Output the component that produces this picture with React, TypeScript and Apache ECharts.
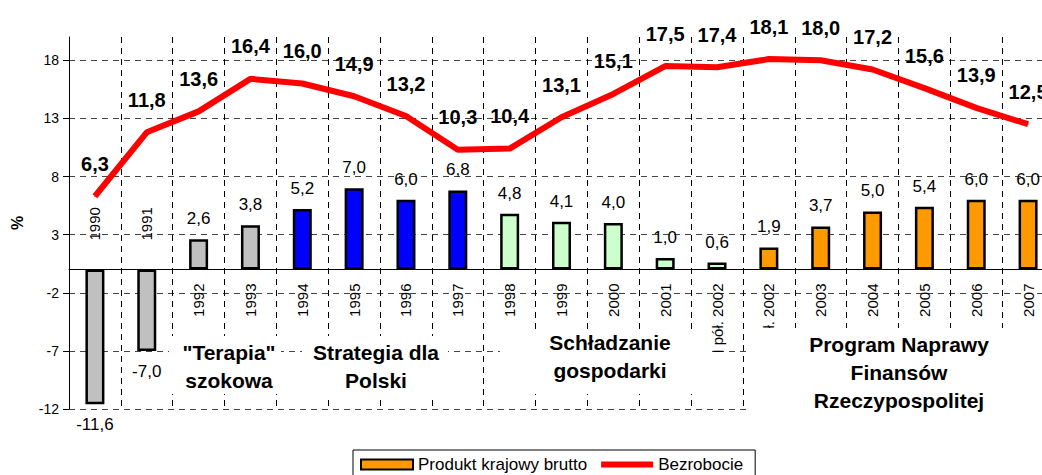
import React, { useEffect, useRef } from 'react';
import * as echarts from 'echarts';

const categories = ['1990', '1991', '1992', '1993', '1994', '1995', '1996', '1997', '1998', '1999', '2000', '2001', 'I pół. 2002', 'II pół. 2002', '2003', '2004', '2005', '2006', '2007'];
const gdpGrowth = [-11.6, -7.0, 2.6, 3.8, 5.2, 7.0, 6.0, 6.8, 4.8, 4.1, 4.0, 1.0, 0.6, 1.9, 3.7, 5.0, 5.4, 6.0, 6.0];
const unemployment = [6.3, 11.8, 13.6, 16.4, 16.0, 14.9, 13.2, 10.3, 10.4, 13.1, 15.1, 17.5, 17.4, 18.1, 18.0, 17.2, 15.6, 13.9, 12.5];
const periods = ['terapia', 'terapia', 'terapia', 'terapia', 'strategia', 'strategia', 'strategia', 'strategia', 'schladzanie', 'schladzanie', 'schladzanie', 'schladzanie', 'schladzanie', 'program', 'program', 'program', 'program', 'program', 'program'];
const periodColors: Record<string, string> = { terapia: '#C0C0C0', strategia: '#0000FF', schladzanie: '#CCFFCC', program: '#FF9900' };
const yTicks = [-12, -7, -2, 3, 8, 13, 18];
const periodTitles = ['"Terapia"\nszokowa', 'Strategia dla\nPolski', 'Schładzanie\ngospodarki', 'Program Naprawy\nFinansów\nRzeczypospolitej'];

const FONT = '"Liberation Sans", Arial, sans-serif';
const fmt = (v: number) => v.toFixed(1).replace('.', ',');

// annotation boxes: [x, y, w, h, textX, textY]
const boxes = [
  [169, 336, 112, 58, 229, 366],
  [302, 336, 146, 64, 376, 366],
  [500, 333, 212, 61, 610, 356],
  [748, 328, 294, 90, 899, 372],
];

export default function App() {
  const ref = useRef<HTMLDivElement>(null);
  useEffect(() => {
    if (!ref.current) return;
    const chart = echarts.init(ref.current, null, { renderer: 'svg' });
    const option: any = {
      animation: false,
      textStyle: { fontFamily: FONT },
      grid: { left: 69, right: -12, top: 37, bottom: 66, containLabel: false, outerBoundsMode: 'none' },
      legend: {
        left: 353,
        top: 450,
        padding: [6, 12, 10, 7],
        borderColor: '#000',
        borderWidth: 1,
        itemWidth: 52,
        itemHeight: 10,
        itemGap: 14,
        selectedMode: false,
        textStyle: { fontSize: 17, color: '#000', fontFamily: FONT },
        data: [
          { name: 'Produkt krajowy brutto', icon: 'rect', itemStyle: { color: '#FF9900', borderColor: '#000', borderWidth: 2 } },
          { name: 'Bezrobocie', icon: 'path://M0,0L0,0M52,10L52,10M0,2H52V8H0Z', itemStyle: { color: '#FF0000', borderWidth: 0 } },
        ],
      },
      xAxis: {
        type: 'category',
        data: categories,
        axisLine: { onZero: true, lineStyle: { color: '#000', width: 1 } },
        axisTick: { show: false },
        axisLabel: { show: false },
        splitLine: { show: true, interval: 0, lineStyle: { type: [6, 5], color: '#000', width: 1 } },
      },
      yAxis: {
        type: 'value',
        min: -12,
        max: 20,
        interval: 5,
        name: '%',
        nameLocation: 'middle',
        nameGap: 44,
        nameRotate: 90,
        nameTextStyle: { fontWeight: 'bold', fontSize: 16, color: '#000', fontFamily: FONT },
        axisLine: { show: true, lineStyle: { color: '#000', width: 1 } },
        axisTick: { show: true, length: 6, lineStyle: { color: '#000' }, customValues: yTicks },
        axisLabel: {
          fontSize: 14,
          color: '#000',
          margin: 10,
          fontFamily: FONT,
          customValues: yTicks,
          formatter: (v: number) => (yTicks.includes(v) ? String(v) : ''),
        },
        splitLine: { show: true, lineStyle: { type: [6, 5], color: '#444', width: 1 } },
      },
      series: [
        {
          type: 'bar',
          name: 'Produkt krajowy brutto',
          barWidth: 19,
          z: 2,
          itemStyle: { borderColor: '#000', borderWidth: 2.5 },
          label: {
            show: true,
            distance: 12,
            fontSize: 17,
            color: '#000',
            fontFamily: FONT,
            formatter: (p: any) => fmt(p.value),
          },
          data: gdpGrowth.map((v, i) => ({
            value: v,
            itemStyle: { color: periodColors[periods[i]] },
            label: { position: v < 0 ? 'bottom' : 'top' },
          })),
        },
        {
          type: 'line',
          name: 'Bezrobocie',
          z: 3,
          symbol: 'circle',
          symbolSize: 1,
          showSymbol: true,
          itemStyle: { color: '#FF0000' },
          lineStyle: { color: '#FF0000', width: 6 },
          label: {
            show: true,
            position: 'top',
            distance: 22,
            fontSize: 20,
            fontWeight: 'bold',
            color: '#000',
            fontFamily: FONT,
            formatter: (p: any) => fmt(p.value),
          },
          data: unemployment,
        },
        {
          // category labels, drawn at the zero line (above it for negative bars)
          type: 'scatter',
          name: 'categoryLabels',
          silent: true,
          symbolSize: 0,
          z: 4,
          itemStyle: { opacity: 1, color: '#000' },
          label: {
            show: true,
            rotate: 90,
            verticalAlign: 'middle',
            fontSize: 15,
            color: '#000',
            opacity: 1,
            fontFamily: FONT,
            formatter: (p: any) => categories[p.value[0]],
          },
          data: categories.map((c, i) => ({
            value: [i, 0],
            label: gdpGrowth[i] < 0 ? { align: 'left', position: [0, -29] } : { align: 'right', position: [0, 14] },
          })),
        },
      ],
      graphic: boxes.map((b, k) => ({
        type: 'group',
        z: 100,
        children: [
          { type: 'rect', z: 100, shape: { x: b[0], y: b[1], width: b[2], height: b[3] }, style: { fill: '#fff' } },
          {
            type: 'text',
            z: 101,
            x: b[4],
            y: b[5],
            style: {
              text: periodTitles[k],
              align: 'center',
              verticalAlign: 'middle',
              fontSize: 21,
              fontWeight: 'bold',
              lineHeight: 28,
              fontFamily: FONT,
              fill: '#000',
            },
          },
        ],
      })),
    };
    chart.setOption(option);
    return () => chart.dispose();
  }, []);
  return <div ref={ref} style={{ position: 'absolute', left: 0, top: 0, width: 1042, height: 475, background: '#fff' }} />;
}
